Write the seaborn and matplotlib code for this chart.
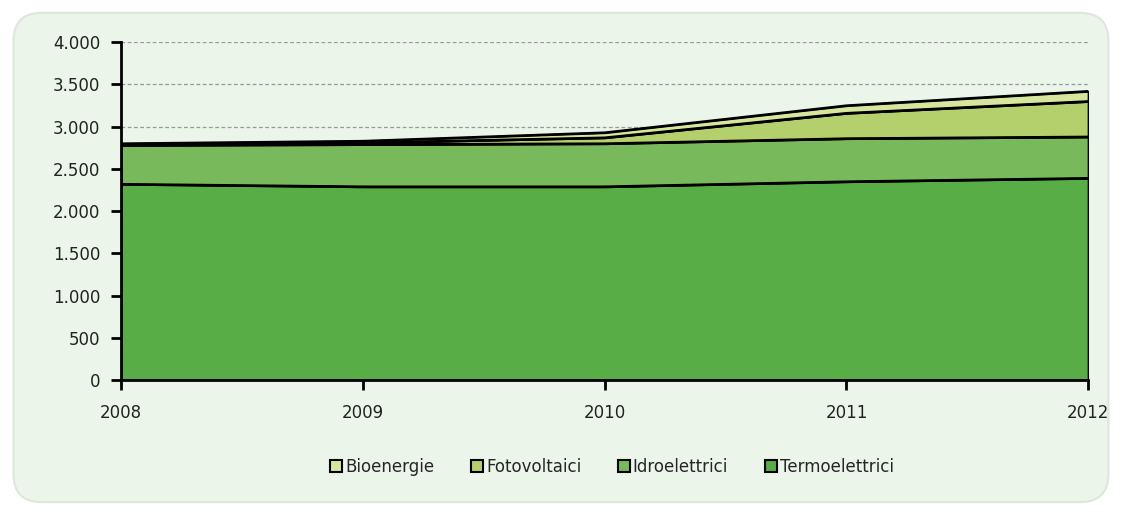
import matplotlib
matplotlib.use("Agg")
import matplotlib.pyplot as plt
from matplotlib.patches import FancyBboxPatch, Patch
import seaborn as sns
import numpy as np
import pandas as pd

years = [2008, 2009, 2010, 2011, 2012]
termoelettrici = [2320, 2290, 2290, 2350, 2390]
idroelettrici = [460, 500, 510, 510, 490]
fotovoltaici = [10, 20, 70, 300, 420]
bioenergie = [10, 20, 60, 90, 120]
series_names = ["Termoelettrici", "Idroelettrici", "Fotovoltaici", "Bioenergie"]
legend_order = ["Bioenergie", "Fotovoltaici", "Idroelettrici", "Termoelettrici"]
yticks = [0, 500, 1000, 1500, 2000, 2500, 3000, 3500, 4000]
ytick_labels = ["0", "500", "1.000", "1.500", "2.000", "2.500", "3.000", "3.500", "4.000"]

colors = {"Termoelettrici": "#58ad47", "Idroelettrici": "#78b95c",
          "Fotovoltaici": "#b4d06c", "Bioenergie": "#d6e69c"}
bg = "#ebf5e9"

sns.set_theme(style="white")
plt.rcParams['font.family'] = ['DejaVu Sans']

df = pd.DataFrame({"anno": years, "Termoelettrici": termoelettrici,
                   "Idroelettrici": idroelettrici, "Fotovoltaici": fotovoltaici,
                   "Bioenergie": bioenergie})

fig = plt.figure(figsize=(11.23, 5.15), dpi=100)
fig.patch.set_facecolor("white")
panel = FancyBboxPatch((0.012, 0.025), 0.975, 0.95, boxstyle="round,pad=0,rounding_size=0.025",
                       transform=fig.transFigure, facecolor=bg, edgecolor="#dfe6dd",
                       linewidth=1.5, zorder=-5, mutation_aspect=1123/515)
fig.patches.append(panel)

ax = fig.add_axes([0.108, 0.262, 0.861, 0.656])
ax.set_zorder(1)
ax.set_facecolor(bg)

ax.stackplot(df["anno"], [df[n] for n in series_names],
             colors=[colors[n] for n in series_names],
             edgecolor="black", linewidth=1.5, zorder=2)

cum = df[series_names].cumsum(axis=1)
for n in series_names:
    sns.lineplot(x=df["anno"], y=cum[n], ax=ax, color="black", linewidth=1.7, zorder=3)

ax.set_xlim(2008, 2012)
ax.set_ylim(0, 4000)
ax.set_yticks(yticks)
ax.set_yticklabels(ytick_labels)
ax.set_xticks(years)
ax.set_xticklabels([str(y) for y in years])
ax.yaxis.grid(True, linestyle=(0, (3, 2)), color="#999999", linewidth=0.9, zorder=1)
ax.set_axisbelow(True)
ax.set_xlabel("")
ax.set_ylabel("")
for s in ["top", "right"]:
    ax.spines[s].set_visible(False)
for s in ["left", "bottom"]:
    ax.spines[s].set_color("black")
    ax.spines[s].set_linewidth(2)
ax.tick_params(axis="both", which="both", direction="out", length=7, width=2,
               color="black", labelsize=12, labelcolor="#222222", left=True, bottom=True)
ax.tick_params(axis="y", pad=8)
ax.tick_params(axis="x", pad=10)

handles = [Patch(facecolor=colors[n], edgecolor="black", linewidth=1.5, label=n) for n in legend_order]
fig.legend(handles=handles, loc="center", bbox_to_anchor=(0.545, 0.093), ncol=4,
           frameon=False, fontsize=12, handlelength=0.7, handleheight=0.7,
           handletextpad=0.2, columnspacing=2.2)

fig.savefig("out.png", dpi=100, facecolor="white")
